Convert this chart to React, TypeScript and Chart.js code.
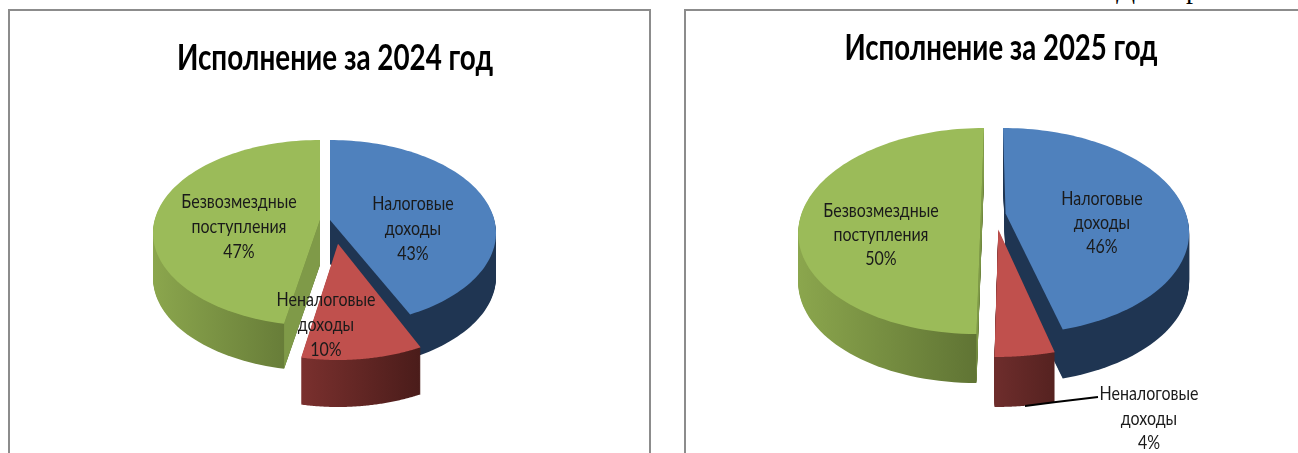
import React, { useEffect, useRef } from "react";
import { Chart, registerables } from "chart.js";

Chart.register(...registerables);

const categories = ["Налоговые доходы", "Неналоговые доходы", "Безвозмездные поступления"];
const values2024 = [43, 10, 47];
const values2025 = [46, 4, 50];
const title2024 = "Исполнение за 2024 год";
const title2025 = "Исполнение за 2025 год";

const topColors = ["#4f81bd", "#c0504d", "#9bbb59"];
const faceColors = [null, null, "#7f9a48"];
const drawOrder = [2, 0, 1];

const LABEL_FONT = '20px Lato, "Noto Sans", sans-serif';
const TITLE_FONT = 'bold 37px Lato, "Noto Sans", sans-serif';

const layout2024 = {
  left: 0,
  width: 667,
  a: 0.14,
  slices: [
    { cx: 330, cy: 233, rx: 166, ry: 93, depth: 44, skew: 0 },
    { cx: 338, cy: 258, rx: 171, ry: 102, depth: 47, skew: 0 },
    { cx: 320, cy: 233, rx: 167, ry: 93, depth: 45, skew: 0 },
  ],
  side: [["#1f3552", "#1f3552"], ["#7a302e", "#4a1c1a"], ["#8ba64d", "#5e7233"]],
  title: { x: 335, y: 58, sx: 0.752 },
  labels: [
    { x: 413, y: [204, 229, 254] },
    { x: 326, y: [300, 325, 350] },
    { x: 239, y: [202, 227, 252] },
  ],
  leader: null as null | number[][],
};

const layout2025 = {
  left: 667,
  width: 631,
  a: 0.17,
  slices: [
    { cx: 1003, cy: 231, rx: 183, ry: 103, depth: 49, skew: 0.03 },
    { cx: 1001, cy: 248, rx: 205, ry: 109, depth: 50, skew: -0.03 },
    { cx: 984, cy: 231, rx: 182, ry: 103, depth: 49, skew: -0.0366 },
  ],
  side: [["#1f3552", "#1f3552"], ["#6e2d2c", "#552220"], ["#8ba64d", "#5e7233"]],
  title: { x: 1001, y: 48, sx: 0.745 },
  labels: [
    { x: 1102, y: [199, 223, 247] },
    { x: 1149, y: [394, 419, 443] },
    { x: 881, y: [211, 235, 259] },
  ],
  leader: [[1025, 406], [1056, 402], [1098, 397]],
};

function pie3d(layout: any, heading: string) {
  return {
    id: "pie3d",
    beforeDatasetsDraw(chart: any) {
      const ctx = chart.ctx;
      const arcs = chart.getDatasetMeta(0).data;
      const a = layout.a;
      const k = Math.sqrt(1 - a * a);
      ctx.save();
      ctx.translate(-layout.left, 0);
      const project = (s: any, u: number, v: number) => {
        const w = 1 - a * v;
        const y = s.cy + s.ry * ((v - a) / w);
        const x = s.cx + s.rx * ((u * k) / w) + s.skew * (y - (s.cy - s.ry));
        return [x, y];
      };
      drawOrder.forEach((i) => {
        const s = layout.slices[i];
        const arc = arcs[i];
        const pts: number[][] = [project(s, 0, 0)];
        const n = 90;
        for (let j = 0; j <= n; j++) {
          const t = arc.startAngle + ((arc.endAngle - arc.startAngle) * j) / n;
          pts.push(project(s, Math.cos(t), Math.sin(t)));
        }
        const trace = (dy: number) => {
          ctx.beginPath();
          pts.forEach((p, idx) => (idx ? ctx.lineTo(p[0], p[1] + dy) : ctx.moveTo(p[0], p[1] + dy)));
          ctx.closePath();
        };
        const xs = pts.map((p) => p[0]);
        const grad = ctx.createLinearGradient(Math.min(...xs), 0, Math.max(...xs), 0);
        grad.addColorStop(0, layout.side[i][0]);
        grad.addColorStop(1, layout.side[i][1]);
        ctx.fillStyle = grad;
        for (let d = s.depth; d > 0; d--) {
          trace(d);
          ctx.fill();
        }
        if (faceColors[i]) {
          const apex = pts[0];
          ctx.fillStyle = faceColors[i];
          [pts[1], pts[pts.length - 1]].forEach((corner) => {
            ctx.beginPath();
            ctx.moveTo(apex[0], apex[1]);
            ctx.lineTo(corner[0], corner[1]);
            ctx.lineTo(corner[0], corner[1] + s.depth);
            ctx.lineTo(apex[0], apex[1] + s.depth);
            ctx.closePath();
            ctx.fill();
          });
        }
        trace(0);
        ctx.fillStyle = chart.data.datasets[0].backgroundColor[i];
        ctx.fill();
      });

      if (layout.leader) {
        ctx.strokeStyle = "#000";
        ctx.lineWidth = 2;
        ctx.beginPath();
        layout.leader.forEach((p: number[], idx: number) => (idx ? ctx.lineTo(p[0], p[1]) : ctx.moveTo(p[0], p[1])));
        ctx.stroke();
      }

      ctx.textAlign = "center";
      ctx.textBaseline = "middle";
      const put = (text: string, x: number, y: number, sx: number) => {
        ctx.save();
        ctx.translate(x, y);
        ctx.scale(sx, 1);
        ctx.fillText(text, 0, 0);
        ctx.restore();
      };
      ctx.fillStyle = "#000";
      ctx.font = TITLE_FONT;
      put(heading, layout.title.x, layout.title.y, layout.title.sx);
      ctx.fillStyle = "#1a1a1a";
      ctx.font = LABEL_FONT;
      const total = chart.data.datasets[0].data.reduce((p: number, c: number) => p + c, 0);
      chart.data.labels.forEach((label: string, i: number) => {
        const pos = layout.labels[i];
        const words = label.split(" ");
        const pct = Math.round((chart.data.datasets[0].data[i] / total) * 100) + "%";
        [words[0], words[1], pct].forEach((t, li) => put(t, pos.x, pos.y[li], 0.8));
      });
      ctx.restore();
      return false;
    },
  };
}

function PieCanvas({ values, layout, heading }: { values: number[]; layout: any; heading: string }) {
  const ref = useRef<HTMLCanvasElement>(null);
  useEffect(() => {
    const chart = new Chart(ref.current as HTMLCanvasElement, {
      type: "pie",
      data: {
        labels: categories,
        datasets: [{ data: values, backgroundColor: topColors, borderWidth: 0 }],
      },
      options: {
        animation: false,
        responsive: false,
        plugins: { legend: { display: false }, tooltip: { enabled: false }, title: { display: false, text: heading } },
      },
      plugins: [pie3d(layout, heading)],
    } as any);
    return () => chart.destroy();
  }, []);
  return (
    <canvas
      ref={ref}
      width={layout.width}
      height={453}
      style={{ position: "absolute", left: layout.left, top: 0, width: layout.width, height: 453 }}
    />
  );
}

const frame: React.CSSProperties = {
  position: "absolute",
  top: 9,
  height: 460,
  border: "2px solid #8c8c8c",
  boxSizing: "border-box",
};

const clipped: React.CSSProperties = {
  position: "absolute",
  fontFamily: '"Liberation Serif", serif',
  fontSize: 28,
  lineHeight: "28px",
  color: "#000",
};

export default function App() {
  return (
    <div style={{ position: "fixed", left: 0, top: 0, width: 1298, height: 453, overflow: "hidden", background: "#fff" }}>
      <div style={{ ...frame, left: 8, width: 643 }} />
      <div style={{ ...frame, left: 684, width: 640 }} />
      <span style={{ ...clipped, left: 1116, top: -25 }}>Д</span>
      <span style={{ ...clipped, left: 1186, top: -25 }}>р</span>
      <PieCanvas values={values2024} layout={layout2024} heading={title2024} />
      <PieCanvas values={values2025} layout={layout2025} heading={title2025} />
    </div>
  );
}
